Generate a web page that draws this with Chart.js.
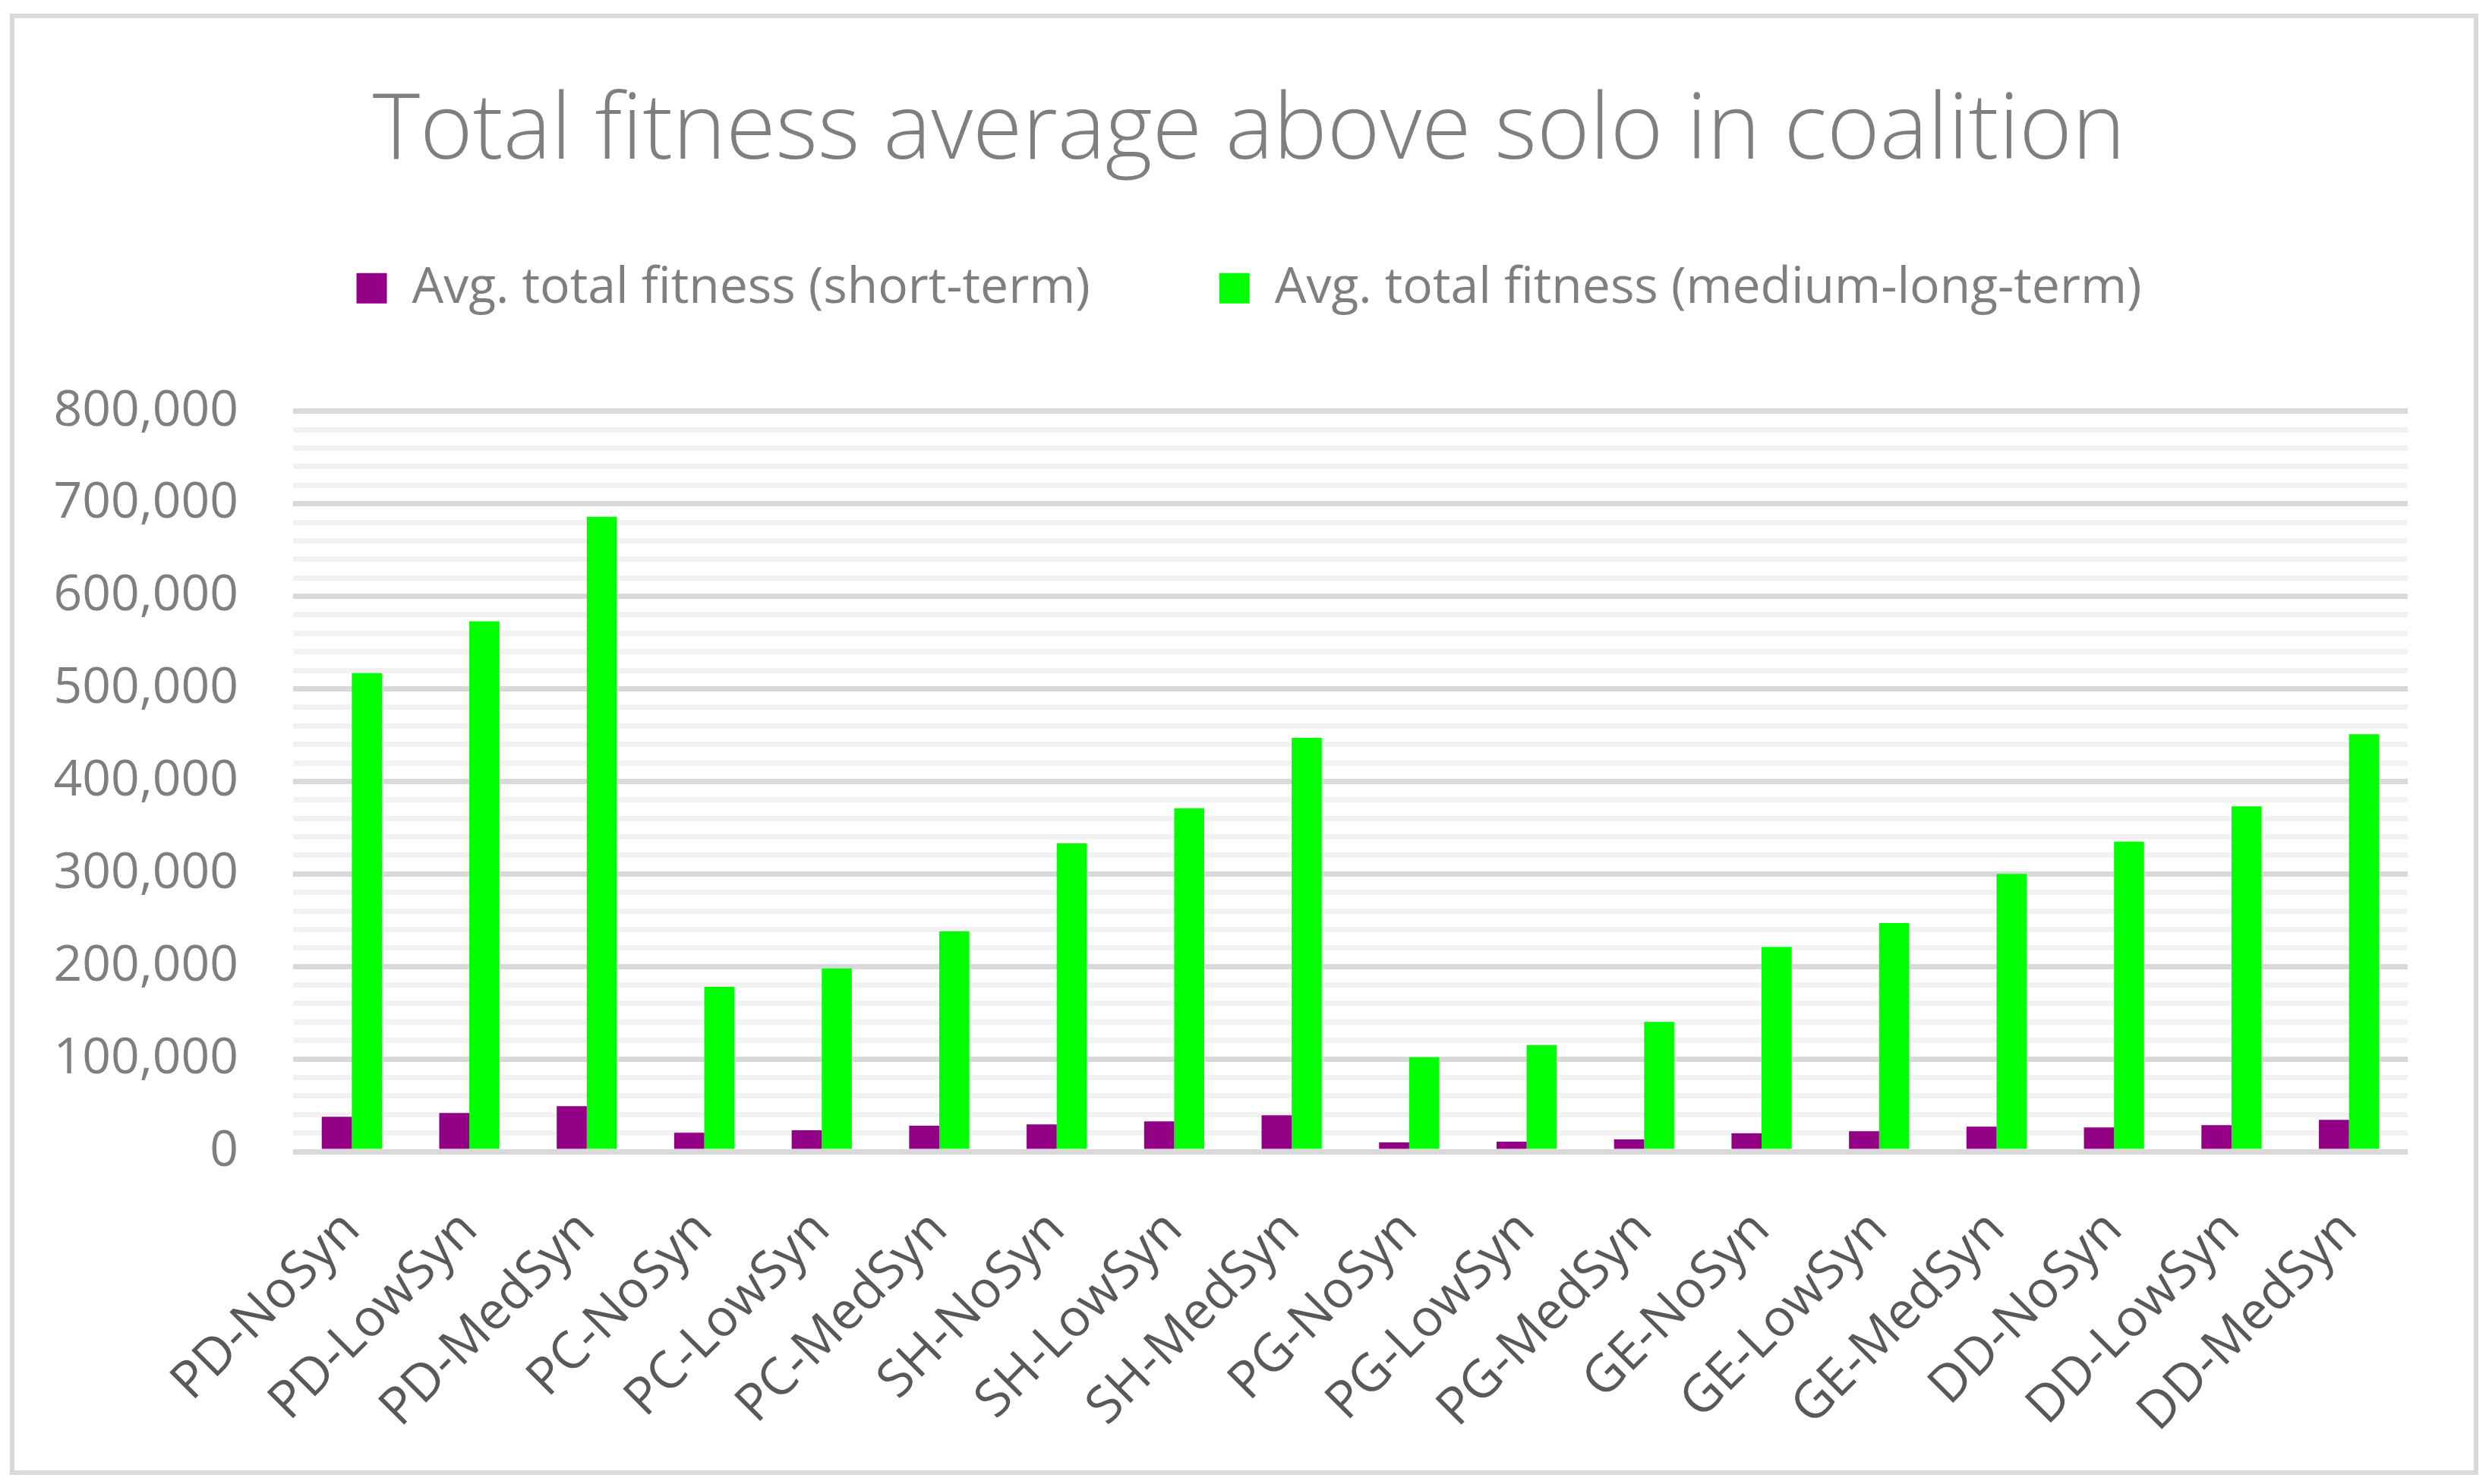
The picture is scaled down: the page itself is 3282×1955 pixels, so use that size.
<!DOCTYPE html>
<html>
<head>
<meta charset="utf-8">
<title>Total fitness average above solo in coalition</title>
<script src="https://cdn.jsdelivr.net/npm/chart.js@4.4.1/dist/chart.umd.min.js"></script>
<style>
  html, body { margin: 0; padding: 0; background: #ffffff; }
  #wrap { position: relative; width: 3282px; height: 1955px; }
  #frame {
    position: absolute; left: 13px; top: 18px; width: 3251px; height: 1925px;
    box-sizing: border-box; border: 6px solid #d9d9d9; pointer-events: none;
  }
</style>
</head>
<body>
<div id="wrap">
  <canvas id="fitnessChart" width="3282" height="1955"></canvas>
  <div id="frame"></div>
</div>
<script>
// categories and values
var categories = ['PD-NoSyn', 'PD-LowSyn', 'PD-MedSyn', 'PC-NoSyn', 'PC-LowSyn', 'PC-MedSyn',
    'SH-NoSyn', 'SH-LowSyn', 'SH-MedSyn', 'PG-NoSyn', 'PG-LowSyn', 'PG-MedSyn',
    'GE-NoSyn', 'GE-LowSyn', 'GE-MedSyn', 'DD-NoSyn', 'DD-LowSyn', 'DD-MedSyn'];

var shortTerm = [37600, 41600, 49000, 20400, 22900, 27800, 29400, 32700, 39200,
    9800, 10600, 13100, 19600, 22000, 26900, 26100, 28600, 34300];

var mediumLongTerm = [517000, 573000, 686000, 178000, 198000, 238000, 333000, 371000, 447000,
    102000, 115000, 140000, 221000, 247000, 300000, 335000, 373000, 451000];

var yMajorTicks = [0, 100000, 200000, 300000, 400000, 500000, 600000, 700000, 800000];
var yTickLabels = ['0', '100,000', '200,000', '300,000', '400,000', '500,000', '600,000', '700,000', '800,000'];

Chart.defaults.font.family = "'Open Sans', 'Noto Sans', sans-serif";

// push the plot area down below the legend
var legendGap = {
    id: 'legendGap',
    beforeInit: function (chart) {
        var fit = chart.legend.fit;
        chart.legend.fit = function () {
            fit.call(this);
            this.height += 119;
        };
    }
};

var ctx = document.getElementById('fitnessChart').getContext('2d');

var fitnessChart = new Chart(ctx, {
    type: 'bar',
    data: {
        labels: categories,
        datasets: [{
            label: 'Avg. total fitness (short-term)',
            data: shortTerm,
            backgroundColor: '#940085',
            borderColor: '#940085',
            borderWidth: 0
        }, {
            label: 'Avg. total fitness (medium-long-term)',
            data: mediumLongTerm,
            backgroundColor: '#00ff00',
            borderColor: '#00ff00',
            borderWidth: 0
        }]
    },
    options: {
        responsive: false,
        animation: false,
        devicePixelRatio: 1,
        datasets: {
            bar: {
                categoryPercentage: 0.512,
                barPercentage: 1.0
            }
        },
        layout: {
            padding: { left: 20, right: 12, top: 0, bottom: 20 }
        },
        plugins: {
            title: {
                display: true,
                text: 'Total fitness average above solo in coalition',
                color: '#7f7f7f',
                font: { size: 119, weight: 300 },
                padding: { top: 104, bottom: -70 }
            },
            legend: {
                display: true,
                position: 'top',
                labels: {
                    color: '#7f7f7f',
                    font: { size: 66 },
                    boxWidth: 40,
                    boxHeight: 40,
                    padding: 170
                }
            },
            tooltip: { enabled: false }
        },
        scales: {
            x: {
                grid: { display: false, drawTicks: false },
                border: { display: false },
                ticks: {
                    color: '#595959',
                    font: { size: 68 },
                    minRotation: 45,
                    maxRotation: 45,
                    autoSkip: false,
                    padding: 63
                },
                afterFit: function (scale) {
                    scale.height = 418;
                }
            },
            y: {
                min: 0,
                max: 800000,
                border: { display: false },
                grid: {
                    drawTicks: false,
                    lineWidth: 7,
                    color: function (c) {
                        return yMajorTicks.indexOf(c.tick.value) >= 0 ? '#d9d9d9' : '#f2f2f2';
                    }
                },
                ticks: {
                    stepSize: 20000,
                    autoSkip: false,
                    color: '#7f7f7f',
                    font: { size: 66 },
                    padding: 72,
                    callback: function (value) {
                        var i = yMajorTicks.indexOf(value);
                        return i >= 0 ? yTickLabels[i] : '';
                    }
                },
                afterFit: function (scale) {
                    scale.width = 366;
                }
            },
            // empty right-hand margin so the plot ends where the reference does
            yRight: {
                position: 'right',
                display: true,
                grid: { display: false, drawTicks: false },
                border: { display: false },
                ticks: { display: false },
                afterFit: function (scale) {
                    scale.width = 99;
                }
            }
        }
    },
    plugins: [legendGap]
});
</script>
</body>
</html>
